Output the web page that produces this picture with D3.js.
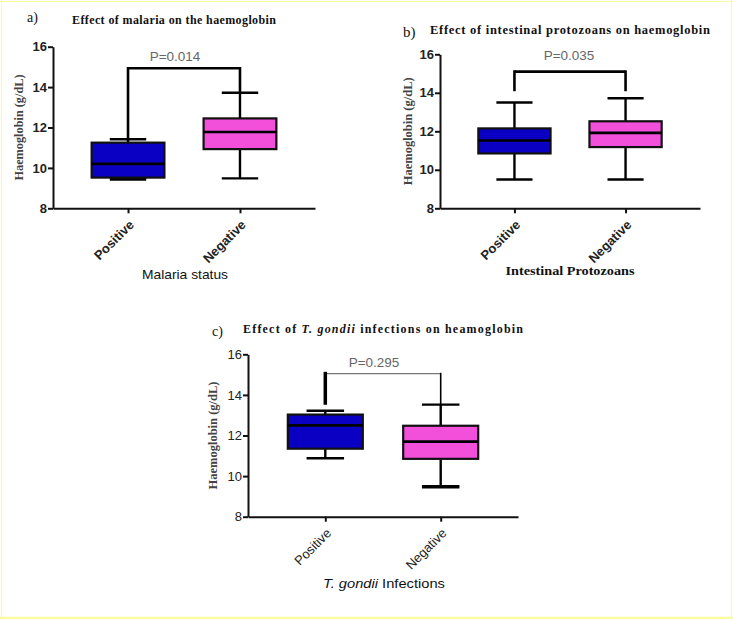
<!DOCTYPE html>
<html><head><meta charset="utf-8">
<script src="https://cdn.jsdelivr.net/npm/d3@7/dist/d3.min.js"></script>
<style>body{margin:0;background:#fff}svg{display:block}</style>
</head><body>
<script>
// ---- data ----
const categories = ["Positive", "Negative"];
const yTicks = [8, 10, 12, 14, 16];
// [min, q1, median, q3, max] in g/dL
const malariaStats   = [[9.45, 9.52, 10.2, 11.25, 11.42], [9.48, 10.93, 11.78, 12.45, 13.72]];
const protozoaStats  = [[9.5, 10.85, 11.52, 12.15, 13.5], [9.5, 11.18, 11.92, 12.52, 13.72]];
const gondiiStats    = [[10.88, 11.35, 12.5, 13.03, 13.22], [9.47, 10.85, 11.7, 12.48, 13.52]];
const pLabels = ["P=0.014", "P=0.035", "P=0.295"];
const bracketLevels = [14.93, 15.1, 15.05];
const bracketLegEnds = [[11.42, 13.72], [14.15, 14.15], [13.6, 13.52]];
const panelLetters = ["a)", "b)", "c)"];
const panelTitles = [
  [["Effect of malaria on the haemoglobin", false]],
  [["Effect of intestinal protozoans on haemoglobin", false]],
  [["Effect of ", false], ["T. gondii", true], [" infections on heamoglobin", false]]
];
const yAxisTitle = "Haemoglobin (g/dL)";
const xAxisTitles = [
  [["Malaria status", false]],
  [["Intestinal Protozoans", false]],
  [["T. gondii", true], [" Infections", false]]
];
const boxColors = ["#0a00c4", "#f24fdb"];

// ---- layout ----
const W = 733, H = 620;
const svg = d3.select("body").append("svg").attr("width", W).attr("height", H);
svg.append("rect").attr("width", W).attr("height", H).attr("fill", "#fff");
const bc = "#fcfc9c";
svg.append("line").attr("x1", 1.5).attr("x2", 1.5).attr("y1", 0).attr("y2", 619).attr("stroke", bc).attr("stroke-width", 1.2);
svg.append("line").attr("x1", 0).attr("x2", W).attr("y1", 1.5).attr("y2", 1.5).attr("stroke", bc).attr("stroke-width", 1.2);
svg.append("line").attr("x1", 731.5).attr("x2", 731.5).attr("y1", 0).attr("y2", 619).attr("stroke", bc).attr("stroke-width", 1.2);
svg.append("line").attr("x1", 0).attr("x2", W).attr("y1", 617.8).attr("y2", 617.8).attr("stroke", bc).attr("stroke-width", 2.2);

const panels = [
  {stats: malariaStats, x0: 53, x1: 315, yT: 46.7, yB: 208.3,
   letterPos: [27, 22], letterSize: 14, titlePos: [72, 24], titleLen: 204, titleSize: 12,
   yTitleX: 19, yTitleLen: 106, xTitlePos: [185, 279], xTitleSerif: false, xTitleLen: 86,
   pPos: [175, 61], bracketStroke: ["#000", 2.6], legW: [2.6, 2.6], tickBold: true},
  {stats: protozoaStats, x0: 440, x1: 700, yT: 54.3, yB: 208.3,
   letterPos: [403, 37], letterSize: 15, titlePos: [430, 34], titleLen: 280, titleSize: 12.5,
   yTitleX: 408, yTitleLen: 108, xTitlePos: [570, 275], xTitleSerif: true, xTitleLen: 129,
   pPos: [569, 60], bracketStroke: ["#000", 2.6], legW: [2.6, 2.6], tickBold: true},
  {stats: gondiiStats, x0: 248, x1: 518, yT: 354.3, yB: 516.7,
   letterPos: [212, 336], letterSize: 14, titlePos: [243, 333], titleLen: 280, titleSize: 12,
   yTitleX: 213, yTitleLen: 108, xTitlePos: [384, 588], xTitleSerif: false, xTitleLen: 122,
   pPos: [374, 367], bracketStroke: ["#777", 1.1], legW: [3.5, 1.6], tickBold: false}
];

function addRich(sel, parts) {
  parts.forEach(([t, it]) => sel.append("tspan").text(t).attr("font-style", it ? "italic" : "normal"));
}

panels.forEach((p, i) => {
  const g = svg.append("g");
  const y = d3.scaleLinear().domain([8, 16]).range([p.yB, p.yT]);
  const x = d3.scalePoint().domain(categories).range([p.x0, p.x1]).padding(0.67);
  const bw = x.step() * 0.65;

  // title
  g.append("text").attr("x", p.letterPos[0]).attr("y", p.letterPos[1])
    .attr("font-family", "Liberation Serif, Times New Roman, serif").attr("font-size", p.letterSize)
    .attr("fill", "#111").text(panelLetters[i]);
  const tt = g.append("text").attr("x", p.titlePos[0]).attr("y", p.titlePos[1])
    .attr("font-family", "Liberation Serif, Times New Roman, serif").attr("font-weight", "bold")
    .attr("font-size", p.titleSize).attr("fill", "#111")
    .attr("textLength", p.titleLen).attr("lengthAdjust", "spacing");
  addRich(tt, panelTitles[i]);

  // boxes
  p.stats.forEach((s, j) => {
    const cx = x(categories[j]);
    const [mn, q1, md, q3, mx] = s;
    const lw = 2.4;
    g.append("line").attr("x1", cx).attr("x2", cx).attr("y1", y(q3)).attr("y2", y(mx)).attr("stroke", "#000").attr("stroke-width", lw);
    g.append("line").attr("x1", cx).attr("x2", cx).attr("y1", y(q1)).attr("y2", y(mn)).attr("stroke", "#000").attr("stroke-width", lw);
    [mn, mx].forEach(v => g.append("line").attr("x1", cx - bw / 4).attr("x2", cx + bw / 4)
      .attr("y1", y(v)).attr("y2", y(v)).attr("stroke", "#000").attr("stroke-width", v === mn && (i === 2 && j === 1 || i === 0 && j === 0) ? 3.5 : lw));
    g.append("rect").attr("x", cx - bw / 2).attr("y", y(q3)).attr("width", bw).attr("height", y(q1) - y(q3))
      .attr("fill", boxColors[j]).attr("stroke", "#111").attr("stroke-width", 2.2);
    g.append("line").attr("x1", cx - bw / 2).attr("x2", cx + bw / 2).attr("y1", y(md)).attr("y2", y(md))
      .attr("stroke", "#000").attr("stroke-width", 2.6);
  });

  // bracket
  const xa = x(categories[0]), xb = x(categories[1]), by = y(bracketLevels[i]);
  g.append("line").attr("x1", xa).attr("x2", xb).attr("y1", by).attr("y2", by)
    .attr("stroke", p.bracketStroke[0]).attr("stroke-width", p.bracketStroke[1]);
  [xa, xb].forEach((xx, k) => g.append("line").attr("x1", xx).attr("x2", xx)
    .attr("y1", by).attr("y2", y(bracketLegEnds[i][k]))
    .attr("stroke", "#000").attr("stroke-width", p.legW[k]).attr("stroke-linecap", "square"));
  g.append("text").attr("x", p.pPos[0]).attr("y", p.pPos[1]).attr("text-anchor", "middle")
    .attr("font-family", "Liberation Sans, Arial, sans-serif").attr("font-size", 13.5).attr("fill", "#666")
    .text(pLabels[i]);

  // axes
  const ya = g.append("g").attr("transform", `translate(${p.x0},0)`)
    .call(d3.axisLeft(y).tickValues(yTicks).tickFormat(d3.format("d")).tickSize(5).tickSizeOuter(0));
  ya.select(".domain").attr("stroke", "#111").attr("stroke-width", 2);
  ya.selectAll(".tick line").attr("stroke", "#111").attr("stroke-width", 2);
  ya.selectAll(".tick text").attr("font-family", "Liberation Sans, Arial, sans-serif")
    .attr("font-weight", p.tickBold ? "bold" : "normal")
    .attr("font-size", 13).attr("fill", "#222").attr("x", -6);

  const xaG = g.append("g").attr("transform", `translate(0,${p.yB})`)
    .call(d3.axisBottom(x).tickSize(5).tickSizeOuter(0));
  xaG.select(".domain").attr("stroke", "#111").attr("stroke-width", 2);
  xaG.selectAll(".tick line").attr("stroke", "#111").attr("stroke-width", 2);
  xaG.selectAll(".tick text").attr("font-family", "Liberation Sans, Arial, sans-serif")
    .attr("font-weight", p.tickBold ? "bold" : "normal")
    .attr("font-size", 13).attr("fill", "#222").attr("text-anchor", "end")
    .attr("x", 0).attr("y", 0).attr("dy", "0.35em")
    .attr("transform", "translate(3,14) rotate(-45)");

  // y title
  g.append("text").attr("transform", `translate(${p.yTitleX},${(p.yT + p.yB) / 2}) rotate(-90)`)
    .attr("text-anchor", "middle").attr("dy", "0.35em")
    .attr("font-family", "Liberation Serif, Times New Roman, serif").attr("font-weight", "bold")
    .attr("font-size", 12.5).attr("fill", "#444")
    .attr("textLength", p.yTitleLen).attr("lengthAdjust", "spacingAndGlyphs")
    .text(yAxisTitle);

  // x title
  const xt = g.append("text").attr("x", p.xTitlePos[0]).attr("y", p.xTitlePos[1]).attr("text-anchor", "middle")
    .attr("font-family", p.xTitleSerif ? "Liberation Serif, Times New Roman, serif" : "Liberation Sans, Arial, sans-serif")
    .attr("font-weight", p.xTitleSerif ? "bold" : "normal")
    .attr("font-size", p.xTitleSerif ? 13 : 13.5).attr("fill", "#111")
    .attr("textLength", p.xTitleLen).attr("lengthAdjust", "spacingAndGlyphs");
  addRich(xt, xAxisTitles[i]);
});
</script>
</body></html>
